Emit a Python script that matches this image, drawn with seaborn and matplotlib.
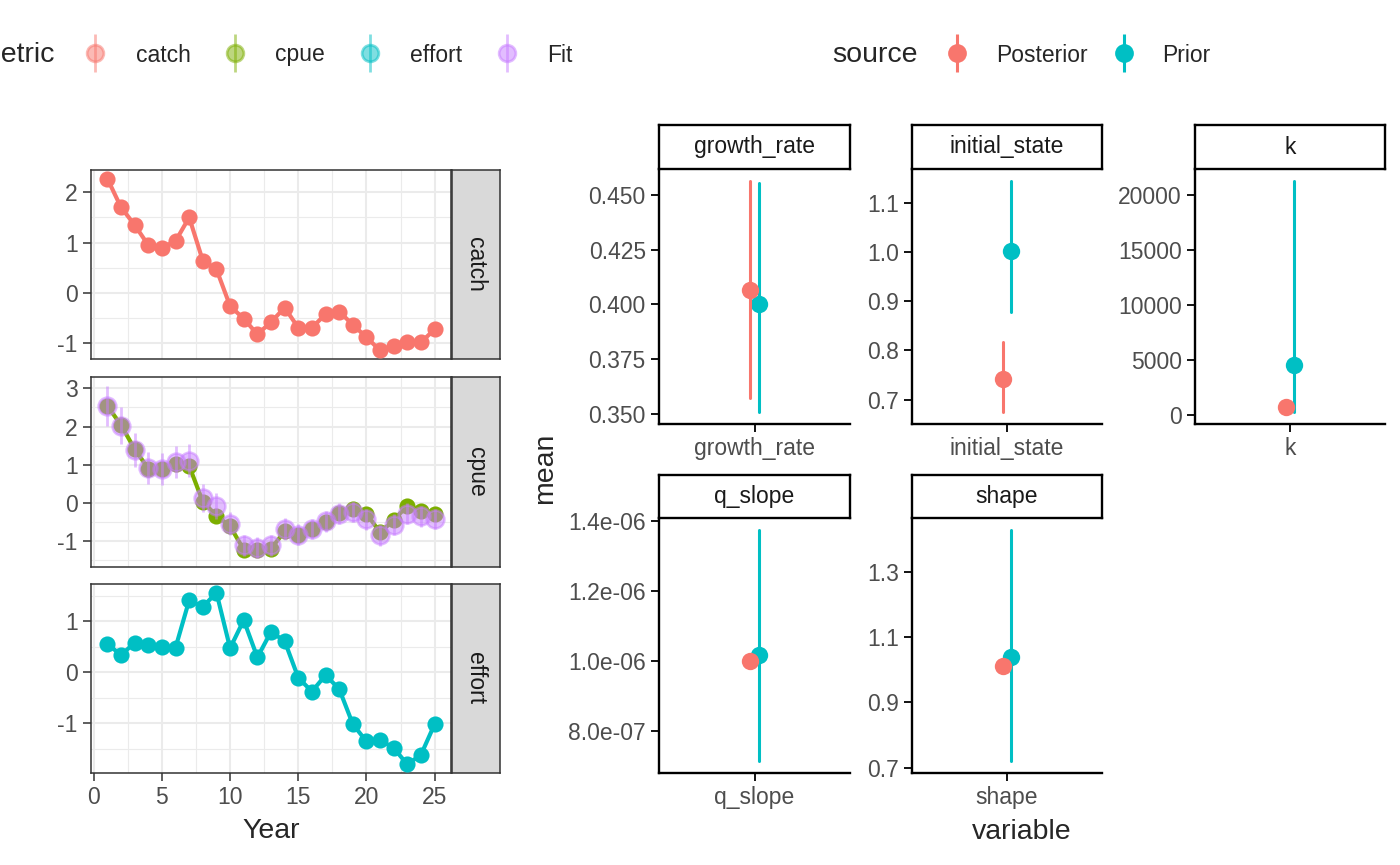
import math
import matplotlib
matplotlib.use("Agg")
import matplotlib.pyplot as plt
import matplotlib.colors as mcolors
import seaborn as sns
import pandas as pd
from matplotlib.lines import Line2D
from matplotlib.legend_handler import HandlerTuple

# ---------------- data ----------------
years = list(range(1, 26))
catch = [2.27, 1.70, 1.35, 0.95, 0.90, 1.03, 1.50, 0.64, 0.47, -0.26,
         -0.51, -0.82, -0.58, -0.29, -0.69, -0.69, -0.42, -0.37, -0.63, -0.88,
         -1.14, -1.05, -0.97, -0.98, -0.72]
cpue = [2.54, 2.04, 1.41, 0.90, 0.89, 1.03, 0.97, 0.03, -0.33, -0.61,
        -1.22, -1.24, -1.20, -0.74, -0.83, -0.68, -0.50, -0.26, -0.16, -0.28,
        -0.77, -0.45, -0.07, -0.22, -0.30]
effort = [0.56, 0.33, 0.58, 0.53, 0.50, 0.48, 1.41, 1.28, 1.56, 0.47,
          1.02, 0.29, 0.79, 0.61, -0.11, -0.38, -0.06, -0.33, -1.02, -1.36,
          -1.33, -1.49, -1.81, -1.62, -1.02]
fit = [2.54, 2.02, 1.39, 0.91, 0.90, 1.06, 1.11, 0.13, -0.09, -0.54,
       -1.11, -1.17, -1.11, -0.68, -0.83, -0.68, -0.48, -0.28, -0.24, -0.43,
       -0.85, -0.57, -0.28, -0.35, -0.42]
fit_sd = [0.53, 0.48, 0.44, 0.42, 0.42, 0.42, 0.42, 0.36, 0.34, 0.31,
          0.28, 0.28, 0.28, 0.28, 0.27, 0.27, 0.27, 0.27, 0.27, 0.27,
          0.27, 0.27, 0.27, 0.27, 0.27]

metrics = ["catch", "cpue", "effort", "Fit"]

variables = ["growth_rate", "initial_state", "k", "q_slope", "shape"]
post_mean = [0.4066, 0.742, 670, 1.000e-06, 1.010]
post_lo = [0.3569, 0.674, 560, 0.995e-06, 0.998]
post_hi = [0.4566, 0.818, 790, 1.005e-06, 1.022]
prior_mean = [0.4000, 1.002, 4480, 1.017e-06, 1.038]
prior_lo = [0.3505, 0.879, 200, 0.712e-06, 0.719]
prior_hi = [0.4556, 1.145, 21340, 1.376e-06, 1.429]
sources = ["Posterior", "Prior"]

y_ticks = [[0.350, 0.375, 0.400, 0.425, 0.450],
           [0.7, 0.8, 0.9, 1.0, 1.1],
           [0, 5000, 10000, 15000, 20000],
           [8.0e-07, 1.0e-06, 1.2e-06, 1.4e-06],
           [0.7, 0.9, 1.1, 1.3]]
y_fmt = ["{:.3f}", "{:.1f}", "{:.0f}", "{:.1e}", "{:.1f}"]

# ---------------- style ----------------
sns.set_theme(style="white")
plt.rcParams["font.family"] = ["Liberation Sans", "DejaVu Sans"]
plt.rcParams["axes.unicode_minus"] = False

RED, GREEN, TEAL, PURPLE = "#F8766D", "#7CAE00", "#00BFC4", "#C77CFF"
metric_colors = [RED, GREEN, TEAL, PURPLE]
src_colors = {"Posterior": RED, "Prior": TEAL}
TICK_FS = 16.5
TITLE_FS = 20.5
GREY30 = "#4D4D4D"
W, H = 1400, 865

fig = plt.figure(figsize=(14, 8.65), dpi=100)


def px_axes(l, t, r, b):
    return fig.add_axes([l / W, 1 - b / H, (r - l) / W, (b - t) / H])


# ---------------- left: time series facets ----------------
left_panels = [("catch", catch, RED, 170, 359),
               ("cpue", cpue, GREEN, 377, 567),
               ("effort", effort, TEAL, 584, 773)]

for i, (name, vals, col, top, bot) in enumerate(left_panels):
    ax = px_axes(91, top, 451, bot)
    sns.lineplot(x=years, y=vals, color=col, linewidth=3.0, ax=ax, zorder=3)
    sns.scatterplot(x=years, y=vals, color=col, s=135, linewidth=0, ax=ax, zorder=4)
    if name == "cpue":
        lo = [f - s for f, s in zip(fit, fit_sd)]
        hi = [f + s for f, s in zip(fit, fit_sd)]
        ax.vlines(years, lo, hi, color=PURPLE, alpha=0.5, linewidth=2.0, zorder=5)
        sns.scatterplot(x=years, y=fit, color=PURPLE, alpha=0.5, s=165,
                        edgecolor=PURPLE, linewidth=1.8, ax=ax, zorder=6)
    ax.set_xlim(-0.2, 26.2)
    ax.margins(y=0.05)
    ax.set_xticks([0, 5, 10, 15, 20, 25])
    ax.set_xticks([2.5, 7.5, 12.5, 17.5, 22.5], minor=True)
    ymin, ymax = ax.get_ylim()
    ax.set_yticks([v for v in range(math.ceil(ymin), math.floor(ymax) + 1)])
    ax.set_yticks([v + 0.5 for v in range(math.floor(ymin) - 1, math.ceil(ymax) + 1)
                   if ymin < v + 0.5 < ymax], minor=True)
    ax.set_ylim(ymin, ymax)
    ax.grid(which="major", color="#EBEBEB", linewidth=1.5, zorder=0)
    ax.grid(which="minor", color="#EBEBEB", linewidth=0.8, zorder=0)
    ax.set_axisbelow(True)
    for sp in ax.spines.values():
        sp.set_color("#333333")
        sp.set_linewidth(1.1)
    ax.tick_params(axis="both", which="major", length=5.5, width=1.1, color="#333333",
                   labelsize=TICK_FS, labelcolor=GREY30, pad=4, left=True, bottom=True)
    ax.tick_params(which="minor", length=0)
    ax.set_xlabel("")
    ax.set_ylabel("")
    if i < 2:
        ax.tick_params(axis="x", labelbottom=False, bottom=False)
    else:
        ax.set_xlabel("Year", fontsize=TITLE_FS, labelpad=6)

    sax = px_axes(452, top, 500, bot)
    sax.set_facecolor("#D9D9D9")
    sax.set_xticks([])
    sax.set_yticks([])
    for sp in sax.spines.values():
        sp.set_color("#333333")
        sp.set_linewidth(1.1)
    sax.text(0.5, 0.5, name, rotation=-90, ha="center", va="center",
             fontsize=TICK_FS, color="#1A1A1A", transform=sax.transAxes)

# left legend (title runs off the left edge, as in the original layout)
fig.text(54 / W, 1 - 55 / H, "metric", ha="right", va="center", fontsize=TITLE_FS)
metric_handles = [(Line2D([], [], color=c, marker="|", markersize=27, mew=2.0,
                          alpha=0.5, linestyle="none"),
                   Line2D([], [], color=c, marker="o", markersize=12, mew=2.0,
                          mec=c, alpha=0.5, linestyle="none"))
                  for c in metric_colors]
fig.legend(metric_handles, metrics, loc="center left",
           bbox_to_anchor=(84 / W, 1 - 55 / H), ncol=4, frameon=False,
           handler_map={tuple: HandlerTuple(ndivide=1)},
           fontsize=TICK_FS, handlelength=1.0, handletextpad=1.25,
           columnspacing=1.45, borderpad=0, borderaxespad=0)

# ---------------- right: parameter facets ----------------
rows = []
for i, v in enumerate(variables):
    for src, lo, mid, hi in [("Posterior", post_lo, post_mean, post_hi),
                             ("Prior", prior_lo, prior_mean, prior_hi)]:
        for val in (lo[i], mid[i], hi[i]):
            rows.append({"variable": v, "source": src, "mean": val})
params = pd.DataFrame(rows)

cols = [(659, 850), (912, 1102), (1195, 1385)]
prow = [(125, 169, 424), (475, 518, 773)]

for i, var in enumerate(variables):
    l, r = cols[i % 3]
    st, pt, pb = prow[i // 3]
    ax = px_axes(l, pt, r, pb)
    sns.pointplot(data=params[params["variable"] == var], x="variable", y="mean",
                  hue="source", hue_order=sources, palette=src_colors,
                  estimator="median", errorbar=lambda v: (v.min(), v.max()),
                  dodge=0.052, linestyle="none", markers="o", markersize=12.5,
                  markeredgewidth=0, err_kws={"linewidth": 2.2}, legend=False, ax=ax)
    for ln in ax.lines:
        if mcolors.same_color(ln.get_color(), RED):
            ln.set_zorder(4)
    ax.set_xlim(-0.6, 0.6)
    ax.margins(y=0.05)
    ax.set_yticks(y_ticks[i])
    ax.set_yticklabels([y_fmt[i].format(t) for t in y_ticks[i]])
    ax.set_xlabel("")
    ax.set_ylabel("")
    ax.grid(False)
    for sp in ["top", "right"]:
        ax.spines[sp].set_visible(False)
    for sp in ["left", "bottom"]:
        ax.spines[sp].set_color("black")
        ax.spines[sp].set_linewidth(1.7)
    ax.tick_params(axis="both", length=5.5, width=1.3, color="black",
                   labelsize=TICK_FS, labelcolor=GREY30, pad=4, left=True, bottom=True)

    sax = px_axes(l, st, r, pt)
    sax.set_facecolor("white")
    sax.set_xticks([])
    sax.set_yticks([])
    for sp in sax.spines.values():
        sp.set_color("black")
        sp.set_linewidth(1.7)
    sax.text(0.5, 0.5, var, ha="center", va="center", fontsize=TICK_FS,
             color="#1A1A1A", transform=sax.transAxes)

fig.text(545 / W, 1 - 468 / H, "mean", rotation=90, ha="center", va="center",
         fontsize=TITLE_FS)
fig.text(1022 / W, 1 - 832 / H, "variable", ha="center", va="center",
         fontsize=TITLE_FS)

# right legend
fig.text(918 / W, 1 - 55 / H, "source", ha="right", va="center", fontsize=TITLE_FS)
src_handles = [(Line2D([], [], color=src_colors[s], marker="|", markersize=27, mew=2.2,
                       linestyle="none"),
                Line2D([], [], color=src_colors[s], marker="o", markersize=13.5, mew=0,
                       linestyle="none"))
               for s in sources]
fig.legend(src_handles, sources, loc="center left",
           bbox_to_anchor=(946 / W, 1 - 55 / H), ncol=2, frameon=False,
           handler_map={tuple: HandlerTuple(ndivide=1)},
           fontsize=TICK_FS, handlelength=1.0, handletextpad=1.2,
           columnspacing=1.05, borderpad=0, borderaxespad=0)

fig.savefig("out.png", dpi=100, facecolor="white")
